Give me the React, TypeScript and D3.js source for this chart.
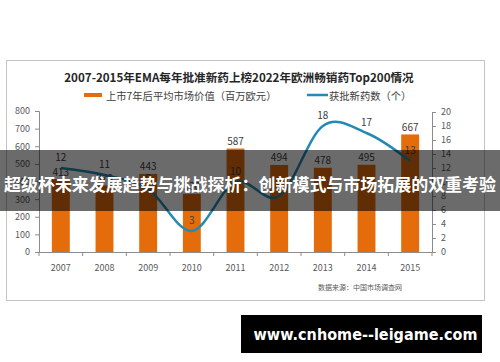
import React, { useEffect, useRef } from 'react';
import * as d3 from 'd3';

const years = ['2007', '2008', '2009', '2010', '2011', '2012', '2013', '2014', '2015'];
// average market value 7 years after launch (million EUR)
const marketValue = [413, 378, 443, 330, 587, 494, 478, 495, 667];
// number of approved new drugs
const approvedCount = [12, 11, 9, 3, 10, 8, 18, 17, 13];
const leftTicks = [0, 100, 200, 300, 400, 500, 600, 700, 800];
const rightTicks = [0, 2, 4, 6, 8, 10, 12, 14, 16, 18, 20];

const title = '2007-2015年EMA每年批准新药上榜2022年欧洲畅销药Top200情况';
const legendBar = '上市7年后平均市场价值（百万欧元）';
const legendLine = '获批新药数（个）';
const sourceNote = '数据来源：中国市场调查网';
const bannerText = '超级杯未来发展趋势与挑战探析：创新模式与市场拓展的双重考验';
const siteText = 'www.cnhome--leigame.com';

const FONT = '"Noto Sans CJK SC", "Noto Sans", sans-serif';

const App = () => {
  const ref = useRef<SVGSVGElement | null>(null);

  useEffect(() => {
    if (!ref.current) return;
    const width = 500, height = 362;
    const svg = d3.select(ref.current);
    svg.selectAll('*').remove();
    svg.attr('width', width).attr('height', height);

    svg.append('rect').attr('width', width).attr('height', height).attr('fill', '#fff');

    // chart frame
    svg.append('rect')
      .attr('x', 6.5).attr('y', 60.5).attr('width', 478).attr('height', 240)
      .attr('fill', '#fff').attr('stroke', '#c4c4c4');

    const plotLeft = 39, plotRight = 432, plotTop = 111, plotBottom = 252;

    const x = d3.scaleBand<string>()
      .domain(years)
      .range([plotLeft, plotRight])
      .paddingInner(0.59)
      .paddingOuter(0.295);
    const yL = d3.scaleLinear().domain([0, 800]).range([plotBottom, plotTop]);
    const yR = d3.scaleLinear().domain([0, 20]).range([plotBottom, plotTop + 1]);

    // title
    svg.append('text')
      .attr('x', 239).attr('y', 77)
      .attr('text-anchor', 'middle').attr('dominant-baseline', 'central')
      .attr('font-family', FONT).attr('font-weight', 'bold').attr('font-size', 11.6)
      .attr('fill', '#262626')
      .text(title);

    // legend
    svg.append('rect').attr('x', 84).attr('y', 93).attr('width', 18).attr('height', 4).attr('fill', '#e46c0a');
    svg.append('text')
      .attr('x', 106).attr('y', 95.5).attr('dominant-baseline', 'central')
      .attr('font-family', FONT).attr('font-size', 10.3).attr('fill', '#404040')
      .text(legendBar);
    svg.append('line').attr('x1', 307).attr('x2', 328).attr('y1', 95).attr('y2', 95)
      .attr('stroke', '#238ab5').attr('stroke-width', 2.5);
    svg.append('text')
      .attr('x', 329).attr('y', 95.5).attr('dominant-baseline', 'central')
      .attr('font-family', FONT).attr('font-size', 10.3).attr('fill', '#404040')
      .text(legendLine);

    // axes
    const axisColor = '#8c8c8c';
    const leftAxis = svg.append('g')
      .attr('transform', `translate(${plotLeft},0)`)
      .call(d3.axisLeft(yL).tickValues(leftTicks).tickSize(4).tickPadding(5));
    const rightAxis = svg.append('g')
      .attr('transform', `translate(${plotRight},0)`)
      .call(d3.axisRight(yR).tickValues(rightTicks).tickSize(4).tickPadding(5));
    [leftAxis, rightAxis].forEach(g => {
      g.select('.domain').attr('stroke', axisColor);
      g.selectAll('.tick line').attr('stroke', axisColor);
      g.selectAll('.tick text')
        .attr('fill', '#595959').attr('font-size', 9).attr('font-family', FONT);
    });

    // category axis with ticks between categories
    svg.append('line')
      .attr('x1', plotLeft).attr('x2', plotRight).attr('y1', plotBottom + 0.5).attr('y2', plotBottom + 0.5)
      .attr('stroke', axisColor);
    const step = x.step();
    svg.selectAll('line.xtick')
      .data(d3.range(years.length + 1))
      .enter()
      .append('line')
      .attr('class', 'xtick')
      .attr('x1', i => plotLeft + i * step).attr('x2', i => plotLeft + i * step)
      .attr('y1', plotBottom).attr('y2', plotBottom + 4)
      .attr('stroke', axisColor);
    svg.selectAll('text.xlabel')
      .data(years)
      .enter()
      .append('text')
      .attr('class', 'xlabel')
      .attr('x', d => (x(d) as number) + x.bandwidth() / 2)
      .attr('y', 267)
      .attr('text-anchor', 'middle').attr('dominant-baseline', 'central')
      .attr('font-family', FONT).attr('font-size', 9).attr('fill', '#595959')
      .text(d => d);

    // bars
    svg.selectAll('rect.bar')
      .data(marketValue)
      .enter()
      .append('rect')
      .attr('class', 'bar')
      .attr('x', (d, i) => x(years[i]) as number)
      .attr('width', x.bandwidth())
      .attr('y', d => yL(d))
      .attr('height', d => plotBottom - yL(d))
      .attr('fill', '#e46c0a');

    svg.selectAll('text.barlabel')
      .data(marketValue)
      .enter()
      .append('text')
      .attr('class', 'barlabel')
      .attr('x', (d, i) => (x(years[i]) as number) + x.bandwidth() / 2)
      .attr('y', d => yL(d) - 8)
      .attr('text-anchor', 'middle').attr('dominant-baseline', 'central')
      .attr('font-family', FONT).attr('font-size', 10).attr('fill', '#404040')
      .text(d => d);

    // smoothed line
    const line = d3.line<number>()
      .x((d, i) => (x(years[i]) as number) + x.bandwidth() / 2)
      .y(d => yR(d))
      .curve(d3.curveCatmullRom.alpha(0));
    svg.append('path')
      .datum(approvedCount)
      .attr('d', line)
      .attr('fill', 'none')
      .attr('stroke', '#238ab5')
      .attr('stroke-width', 2.5);

    svg.selectAll('text.linelabel')
      .data(approvedCount)
      .enter()
      .append('text')
      .attr('class', 'linelabel')
      .attr('x', (d, i) => (x(years[i]) as number) + x.bandwidth() / 2)
      .attr('y', d => yR(d) - 12)
      .attr('text-anchor', 'middle').attr('dominant-baseline', 'central')
      .attr('font-family', FONT).attr('font-size', 10).attr('fill', '#404040')
      .text(d => d);

    // source note
    svg.append('text')
      .attr('x', 360).attr('y', 287)
      .attr('text-anchor', 'middle').attr('dominant-baseline', 'central')
      .attr('font-family', FONT).attr('font-size', 7).attr('fill', '#595959')
      .text(sourceNote);

    // overlay banner
    svg.append('rect')
      .attr('x', 0).attr('y', 150).attr('width', width).attr('height', 61)
      .attr('fill', '#000').attr('fill-opacity', 0.58);
    svg.append('text')
      .attr('x', 250).attr('y', 183)
      .attr('text-anchor', 'middle').attr('dominant-baseline', 'central')
      .attr('font-family', FONT).attr('font-weight', 'bold').attr('font-size', 17)
      .attr('textLength', 492).attr('lengthAdjust', 'spacingAndGlyphs')
      .attr('fill', '#fff')
      .text(bannerText);

    // site badge
    svg.append('rect')
      .attr('x', 241).attr('y', 315).attr('width', 241).attr('height', 38)
      .attr('fill', '#000');
    svg.append('text')
      .attr('x', 365.5).attr('y', 335)
      .attr('text-anchor', 'middle').attr('dominant-baseline', 'central')
      .attr('font-family', '"DejaVu Sans", sans-serif').attr('font-weight', 'bold').attr('font-size', 15)
      .attr('textLength', 224).attr('lengthAdjust', 'spacingAndGlyphs')
      .attr('fill', '#fff')
      .text(siteText);
  }, []);

  return (
    <svg ref={ref} style={{ position: 'absolute', left: 0, top: 0, display: 'block' }} />
  );
};

export default App;
